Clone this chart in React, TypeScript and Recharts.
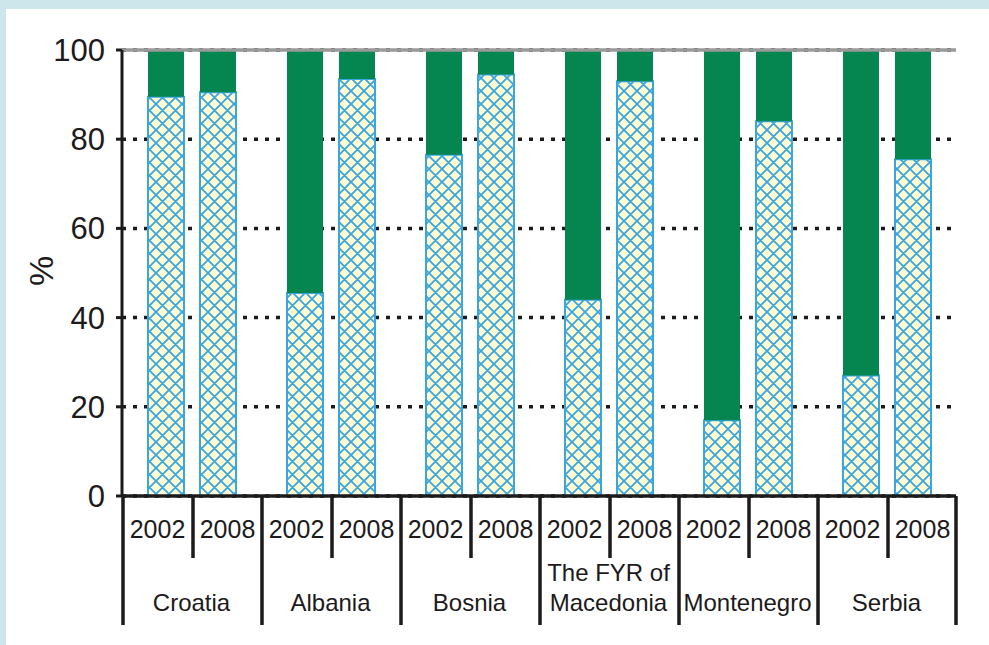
import { BarChart, Bar, XAxis, YAxis, CartesianGrid, ReferenceLine } from "recharts";

// country groups, each with a 2002 and a 2008 bar
const countries = ["Croatia", "Albania", "Bosnia", "The FYR of\nMacedonia", "Montenegro", "Serbia"];
const years = ["2002", "2008"];

// hatched (lower) part and green (upper) part of each bar, in %
const lower2002 = [89.5, 45.5, 76.5, 44, 17, 27];
const upper2002 = [10.5, 54.5, 23.5, 56, 83, 73];
const lower2008 = [90.5, 93.5, 94.5, 93, 84, 75.5];
const upper2008 = [9.5, 6.5, 5.5, 7, 16, 24.5];

const yTicks = [0, 20, 40, 60, 80, 100];

const data = countries.map((country, i) => ({
  country,
  lower2002: lower2002[i],
  upper2002: upper2002[i],
  lower2008: lower2008[i],
  upper2008: upper2008[i],
}));

const W = 989;
const H = 645;
const MARGIN = { top: 50, right: 33, bottom: 9, left: 62 };
const Y_AXIS_W = 60;
const GROUP_W = (W - MARGIN.left - Y_AXIS_W - MARGIN.right) / countries.length;

const INK = "#1d1a1b";
const GREEN = "#05854f";
const HATCH_BLUE = "#3aa6df";
const FONT = "'Liberation Sans', Arial, Helvetica, sans-serif";

function CountryTick(props: any) {
  const { x, y, payload, index } = props;
  const lines = String(payload.value).split("\n");
  const half = GROUP_W / 2;
  const isLast = index === countries.length - 1;
  const txt = { fill: INK, fontFamily: FONT, textAnchor: "middle" as const };
  return (
    <g>
      <line x1={x - half + 1} x2={x - half + 1} y1={y} y2={y + 129} stroke={INK} strokeWidth={3.5} />
      {isLast && (
        <line x1={x + half} x2={x + half} y1={y} y2={y + 129} stroke={INK} strokeWidth={3.5} />
      )}
      <line x1={x + 1.5} x2={x + 1.5} y1={y} y2={y + 62} stroke={INK} strokeWidth={3.5} />
      <text x={x - 34} y={y + 42} fontSize={25} {...txt}>
        {years[0]}
      </text>
      <text x={x + 36} y={y + 42} fontSize={25} {...txt}>
        {years[1]}
      </text>
      {lines.map((line, k) => (
        <text key={k} x={x} y={y + 115 - (lines.length - 1 - k) * 30} fontSize={24} {...txt}>
          {line}
        </text>
      ))}
    </g>
  );
}

export default function App() {
  return (
    <div
      style={{
        position: "absolute",
        left: 0,
        top: 0,
        width: W,
        height: H,
        background: "#cde6eb",
        fontFamily: FONT,
        overflow: "hidden",
      }}
    >
      <div style={{ position: "absolute", left: 6, top: 9, right: 0, bottom: 0, background: "#fff" }} />
      <div style={{ position: "absolute", left: 0, top: 0 }}>
        <BarChart width={W} height={H} data={data} margin={MARGIN} barSize={36} barGap={16}>
          <defs>
            <pattern id="hatch" patternUnits="userSpaceOnUse" width="13" height="13">
              <rect width="13" height="13" fill="#fffad2" />
              <path
                d="M0,0 L13,13 M13,0 L0,13 M-3,10 L3,16 M10,-3 L16,3 M-3,3 L3,-3 M10,16 L16,10"
                stroke={HATCH_BLUE}
                strokeWidth={1.8}
              />
            </pattern>
          </defs>
          <CartesianGrid
            vertical={false}
            stroke={INK}
            strokeDasharray="4 7"
            strokeWidth={3.5}
          />
          <XAxis
            dataKey="country"
            interval={0}
            height={140}
            tickLine={false}
            tickSize={0}
            tickMargin={0}
            axisLine={{ stroke: INK, strokeWidth: 3.5 }}
            tick={<CountryTick />}
          />
          <YAxis
            width={Y_AXIS_W}
            domain={[0, 100]}
            ticks={yTicks}
            interval={0}
            tickSize={6}
            tickMargin={11}
            tickLine={{ stroke: INK, strokeWidth: 3 }}
            axisLine={{ stroke: INK, strokeWidth: 3 }}
            tick={{ fill: INK, fontSize: 31, fontFamily: FONT }}
          />
          <YAxis
            yAxisId="frame"
            orientation="right"
            width={0}
            domain={[0, 100]}
            tick={false}
            tickLine={false}
            axisLine={{ stroke: "#9a9a9a", strokeWidth: 3.5 }}
          />
          <Bar dataKey="lower2002" stackId="a" fill="url(#hatch)" stroke={HATCH_BLUE} strokeWidth={2} isAnimationActive={false} />
          <Bar dataKey="upper2002" stackId="a" fill={GREEN} isAnimationActive={false} />
          <Bar dataKey="lower2008" stackId="b" fill="url(#hatch)" stroke={HATCH_BLUE} strokeWidth={2} isAnimationActive={false} />
          <Bar dataKey="upper2008" stackId="b" fill={GREEN} isAnimationActive={false} />
          <ReferenceLine y={100} stroke="#9a9a9a" strokeWidth={3.5} />
        </BarChart>
      </div>
      <div
        style={{
          position: "absolute",
          left: 41,
          top: 271,
          transform: "translate(-50%, -50%) rotate(-90deg)",
          fontSize: 34,
          color: INK,
          lineHeight: 1,
        }}
      >
        %
      </div>
    </div>
  );
}
